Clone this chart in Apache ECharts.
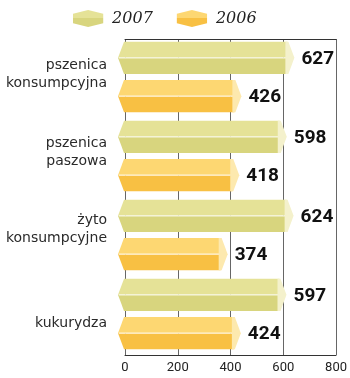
<!DOCTYPE html>
<html>
<head>
<meta charset="utf-8">
<script src="https://cdn.jsdelivr.net/npm/echarts@6/dist/echarts.min.js"></script>
<style>
  html, body { margin: 0; padding: 0; background: #ffffff; }
  #chart { width: 350px; height: 378px; }
</style>
</head>
<body>
<div id="chart"></div>
<script>
// Grain prices by crop, 2007 vs 2006
const categories = ['pszenica\nkonsumpcyjna', 'pszenica\npaszowa', 'żyto\nkonsumpcyjne', 'kukurydza'];
const seriesNames = ['2007', '2006'];
const values2007 = [627, 598, 624, 597];
const values2006 = [426, 418, 374, 424];
const axisMin = 0;
const axisMax = 800;
const axisStep = 200;

// face colours of the prism bars: [top face, front face, end cap]
const palette = {
  '2007': ['#e5e297', '#d8d57e', '#f4f1cc'],
  '2006': ['#fdd772', '#f8c043', '#fde9ae']
};

// vertical nudges for the crop names (px, + = down)
const labelNudge = [-4.5, -5, -7, 8];

function faceGradient(c) {
  return new echarts.graphic.LinearGradient(0, 0, 0, 1, [
    { offset: 0, color: c[0] },
    { offset: 0.45, color: c[0] },
    { offset: 0.46, color: c[1] },
    { offset: 1, color: c[1] }
  ]);
}

// crop name as rich text, with an empty spacer line that moves it up or down
function cropLabel(value, index) {
  const lines = value.split('\n').map(s => '{t|' + s + '}');
  const n = labelNudge[index];
  const spacer = '{s' + index + '|}';
  return n < 0 ? lines.concat(spacer).join('\n') : [spacer].concat(lines).join('\n');
}
const labelRich = { t: { fontFamily: 'DejaVu Sans', fontSize: 14, lineHeight: 18, color: '#2a2a2a', align: 'right' } };
labelNudge.forEach((n, i) => { labelRich['s' + i] = { lineHeight: Math.abs(2 * n), fontSize: 1 }; });

function prismBar(params, api) {
  const ci = api.value(1);
  const v = api.value(0);
  const end = api.coord([v, ci]);
  const start = api.coord([0, ci]);
  const band = api.size([0, 1])[1];
  const h = band * 0.41;
  const gap = band * 0.075;
  const dir = params.seriesIndex === 0 ? -1 : 1;
  const cy = end[1] + dir * (gap / 2 + h / 2) - 1.5;
  const yT = cy - h / 2, yB = cy + h / 2;
  const xL = start[0];
  const xB = end[0] - 3;
  const xTip = end[0] + 4;
  const c = palette[seriesNames[params.seriesIndex]];
  return {
    type: 'group',
    children: [
      { type: 'polygon', shape: { points: [[xL - 1, yT], [xB, yT], [xB, cy], [xL - 7, cy]] },
        style: { fill: c[0] } },
      { type: 'polygon', shape: { points: [[xL - 7, cy], [xB, cy], [xB, yB], [xL - 1, yB]] },
        style: { fill: c[1] } },
      { type: 'line', shape: { x1: xL - 6, y1: cy, x2: xB, y2: cy },
        style: { stroke: 'rgba(255,255,255,0.75)', lineWidth: 1.2 } },
      { type: 'polygon', shape: { points: [[xB - 2, yT], [xB + 1, yT], [xTip, cy], [xB + 1, yB], [xB - 2, yB]] },
        style: { fill: c[2] } },
      { type: 'text', style: {
          text: String(v), x: xTip + 7, y: cy + 1,
          verticalAlign: 'middle', align: 'left',
          fontFamily: 'Roboto', fontWeight: 'bold', fontSize: 19, fill: '#111'
        } }
    ]
  };
}

const chart = echarts.init(document.getElementById('chart'), null, { renderer: 'canvas' });
chart.setOption({
  animation: false,
  backgroundColor: '#ffffff',
  legend: {
    left: 68,
    top: 5,
    itemWidth: 32,
    itemHeight: 17,
    itemGap: 24,
    icon: 'path://M0,4 L16,0 L32,4 L32,14 L16,18 L0,14 Z',
    textStyle: { fontFamily: 'DejaVu Serif', fontStyle: 'italic', fontSize: 16, color: '#222', padding: [0, 0, 0, 3] },
    data: seriesNames.map(n => ({ name: n, itemStyle: { color: faceGradient(palette[n]) } }))
  },
  grid: { left: 125, right: 12, top: 39, bottom: 23, containLabel: false },
  xAxis: [
    {
      type: 'value', position: 'bottom', min: axisMin, max: axisMax, interval: axisStep,
      axisLine: { show: true, lineStyle: { color: '#333', width: 1 } },
      axisTick: { show: false },
      axisLabel: { margin: 6, fontFamily: 'Roboto', fontSize: 13, color: '#222' },
      splitLine: { show: true, lineStyle: { color: '#666', width: 1 } }
    },
    {
      type: 'value', position: 'top', min: axisMin, max: axisMax, interval: axisStep,
      axisLine: { show: true, lineStyle: { color: '#333', width: 1 } },
      axisTick: { show: false },
      axisLabel: { show: false },
      splitLine: { show: false }
    }
  ],
  yAxis: {
    type: 'category',
    data: categories,
    inverse: true,
    axisLine: { show: false },
    axisTick: { show: false },
    axisLabel: { margin: 18, align: 'right', formatter: cropLabel, rich: labelRich },
    splitLine: { show: false }
  },
  series: [
    { name: seriesNames[0], type: 'custom', renderItem: prismBar, xAxisIndex: 0,
      itemStyle: { color: faceGradient(palette['2007']) },
      encode: { x: 0, y: 1 }, data: values2007.map((v, i) => [v, i]) },
    { name: seriesNames[1], type: 'custom', renderItem: prismBar, xAxisIndex: 0,
      itemStyle: { color: faceGradient(palette['2006']) },
      encode: { x: 0, y: 1 }, data: values2006.map((v, i) => [v, i]) }
  ]
});
</script>
</body>
</html>
